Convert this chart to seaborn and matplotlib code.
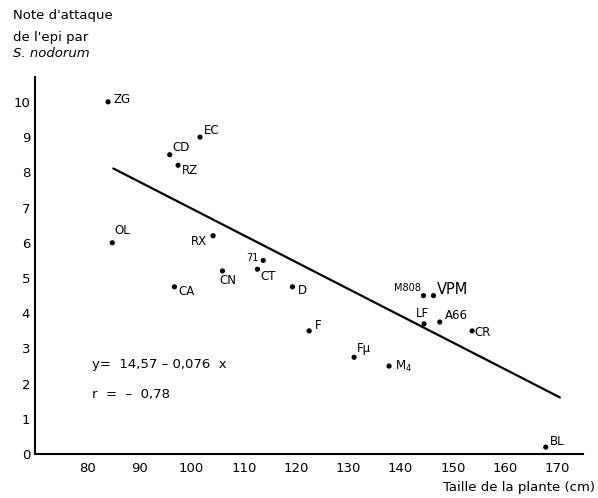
import matplotlib
matplotlib.use("Agg")
import matplotlib.pyplot as plt
import seaborn as sns
import numpy as np
import pandas as pd

# Varieties: plant height (cm) and S. nodorum ear attack score
names = ["ZG", "EC", "CD", "RZ", "OL", "RX", "71", "CN", "CT", "CA", "D",
         "F", "Fμ", "M$_4$", "M808", "VPM", "LF", "A66", "CR", "BL"]
height = [84.0, 101.6, 95.8, 97.4, 84.8, 104.1, 113.7, 105.9, 112.6, 96.7, 119.3,
          122.5, 131.1, 137.8, 144.4, 146.3, 144.5, 147.5, 153.7, 167.8]
score = [10.0, 9.0, 8.5, 8.2, 6.0, 6.2, 5.5, 5.2, 5.25, 4.75, 4.75,
         3.5, 2.75, 2.5, 4.5, 4.5, 3.7, 3.75, 3.5, 0.2]

# Regression line stated on the chart
intercept = 14.57
slope = -0.076
fit_x = [85.0, 170.5]

x_ticks = [80, 90, 100, 110, 120, 130, 140, 150, 160, 170]
y_ticks = list(range(0, 11))

# label placement (offset in pixels, horizontal alignment, font size)
label_style = {
    "ZG": ((5, 2), "left", 8.5), "EC": ((4, 7), "left", 8.5), "CD": ((3, 7), "left", 8.5),
    "RZ": ((4, -5), "left", 8.5), "OL": ((2, 12), "left", 8.5), "RX": ((-6, -6), "right", 8.5),
    "71": ((-5, 2), "right", 7), "CN": ((5, -10), "center", 8.5), "CT": ((3, -7), "left", 8.5),
    "CA": ((4, -5), "left", 8.5), "D": ((5, -4), "left", 8.5), "F": ((6, 5), "left", 8.5),
    "Fμ": ((3, 9), "left", 8.5), "M$_4$": ((6, 0), "left", 8.5), "M808": ((-3, 8), "right", 7),
    "VPM": ((3, 6), "left", 10.5), "LF": ((-2, 10), "center", 8.5), "A66": ((5, 7), "left", 8.5),
    "CR": ((2, -2), "left", 8.5), "BL": ((4, 6), "left", 8.5),
}

sns.set_theme(style="white")
plt.rcParams["font.family"] = ["DejaVu Sans"]
plt.rcParams["text.color"] = "black"

df = pd.DataFrame({"height": height, "score": score, "name": names})
fit = pd.DataFrame({"x": fit_x, "y": [intercept + slope * v for v in fit_x]})

fig = plt.figure(figsize=(5.98, 4.98), dpi=100)
ax = fig.add_axes([0.0585, 0.088, 0.917, 0.757])

sns.lineplot(data=fit, x="x", y="y", ax=ax, color="black", linewidth=1.6)
sns.scatterplot(data=df, x="height", y="score", ax=ax, color="black", s=14,
                edgecolor="none", zorder=3)

for n, xv, yv in zip(names, height, score):
    (dx, dy), ha, fs = label_style[n]
    ax.annotate(n, (xv, yv), xytext=(dx, dy), textcoords="offset pixels",
                ha=ha, va="center", fontsize=fs, color="black")

ax.text(80.9, 2.55, "y=  14,57 \u2013 0,076  x", fontsize=9.5, va="center", ha="left",
        color="black")
ax.text(80.9, 1.68, "r  =  \u2013  0,78", fontsize=9.5, va="center", ha="left",
        color="black")

ax.set_xlim(70, 175)
ax.set_ylim(0, 10.7)
ax.set_xticks(x_ticks)
ax.set_yticks(y_ticks)
ax.set_xlabel("")
ax.set_ylabel("")
ax.tick_params(axis="both", direction="inout", length=5, width=1, color="black",
               labelsize=9.5, labelcolor="black", pad=3)
ax.tick_params(axis="y", pad=1)
sns.despine(ax=ax)
for side in ("left", "bottom"):
    ax.spines[side].set_color("black")
    ax.spines[side].set_linewidth(1.5)

fig.text(0.022, 0.968, "Note d'attaque", fontsize=9.5, ha="left", va="center", color="black")
fig.text(0.022, 0.925, "de l'epi par", fontsize=9.5, ha="left", va="center", color="black")
fig.text(0.022, 0.893, "S. nodorum", fontsize=9.5, ha="left", va="center", style="italic",
         color="black")
fig.text(0.995, 0.022, "Taille de la plante (cm)", fontsize=9.5, ha="right", va="center",
         color="black")

fig.savefig("out.png", dpi=100, facecolor="white")
